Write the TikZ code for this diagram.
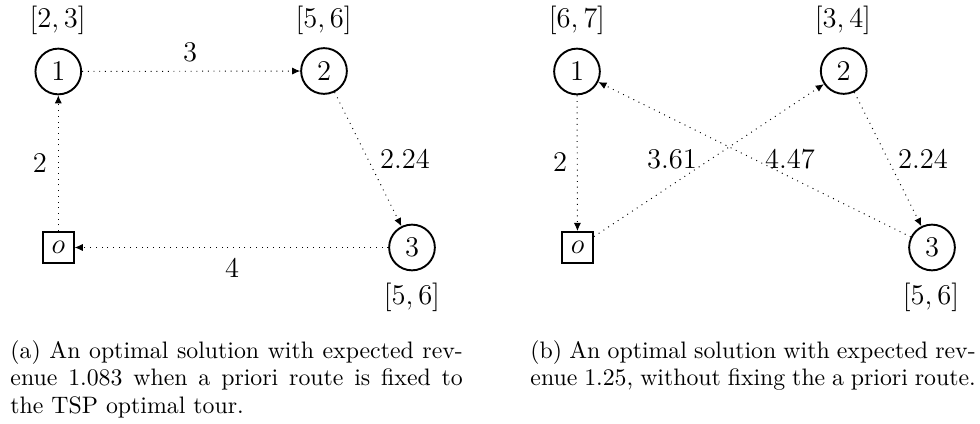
\documentclass[tikz,border=0pt]{standalone}
\usetikzlibrary{arrows.meta}
\begin{document}
\begin{tikzpicture}[x=0.42pt,y=-0.42pt,
  city/.style={circle,draw,line width=0.8pt,minimum size=19.2pt,inner sep=0pt,font=\fontsize{12}{14}\selectfont},
  depot/.style={rectangle,draw,line width=0.8pt,minimum size=13pt,inner sep=0pt,font=\fontsize{12}{14}\selectfont},
  lab/.style={inner sep=0pt,font=\fontsize{12}{14}\selectfont},
  arc/.style={dotted,line width=0.4pt,-{Latex[length=3.4pt,width=3pt]}},
  captext/.style={inner sep=0pt,anchor=north west,align=justify,font=\fontsize{10}{11.55}\selectfont}]
\useasboundingbox (0,0) rectangle (980,424);
% ---- panel (a)
\node[city]  (a1) at (58.3,71.5) {1};
\node[city]  (a2) at (324,71) {2};
\node[city]  (a3) at (412,247.5) {3};
\node[depot] (ao) at (58.3,247.5) {$o$};
\node[lab] (ta1) at (57.7,20) {$[2,3]$};
\node[lab] (ta2) at (323.7,20) {$[5,6]$};
\node[lab] (ta3) at (412,297) {$[5,6]$};
\draw[arc] (a1) -- (a2);
\draw[arc] (a2) -- (a3);
\draw[arc] (a3) -- (ao);
\draw[arc] (ao) -- (a1);
\node[lab] (ea12) at (190,52.5) {3};
\node[lab] (ea23) at (405,159) {2.24};
\node[lab] (eao1) at (40,163) {2};
\node[lab] (ea3o) at (232,267.5) {4};
% ---- panel (b)
\node[city]  (b1) at (577,71.5) {1};
\node[city]  (b2) at (843.7,71) {2};
\node[city]  (b3) at (932,247.5) {3};
\node[depot] (bo) at (577.5,247.5) {$o$};
\node[lab] (tb1) at (577,20) {$[6,7]$};
\node[lab] (tb2) at (843,20) {$[3,4]$};
\node[lab] (tb3) at (931,297) {$[5,6]$};
\draw[arc] (b1) -- (bo);
\draw[arc] (bo) -- (b2);
\draw[arc] (b2) -- (b3);
\draw[arc] (b3) -- (b1);
\node[lab] (eb1o) at (560,162.5) {2};
\node[lab] (ebo2) at (672,159) {3.61};
\node[lab] (eb31) at (790,159) {4.47};
\node[lab] (eb23) at (923,159) {2.24};
% ---- captions
\node[captext,text width=190pt] (capa) at (10,340) {\hyphenpenalty=10000 (a)\ An optimal solution with expected rev-\linebreak enue 1.083 when a priori route is fixed to\linebreak the TSP optimal tour.};
\node[captext,text width=187pt] (capb) at (530,340) {\hyphenpenalty=10000 \parfillskip=0pt (b)\ An optimal solution with expected rev-\linebreak enue 1.25, without fixing the a priori route.};
\end{tikzpicture}
\end{document}
